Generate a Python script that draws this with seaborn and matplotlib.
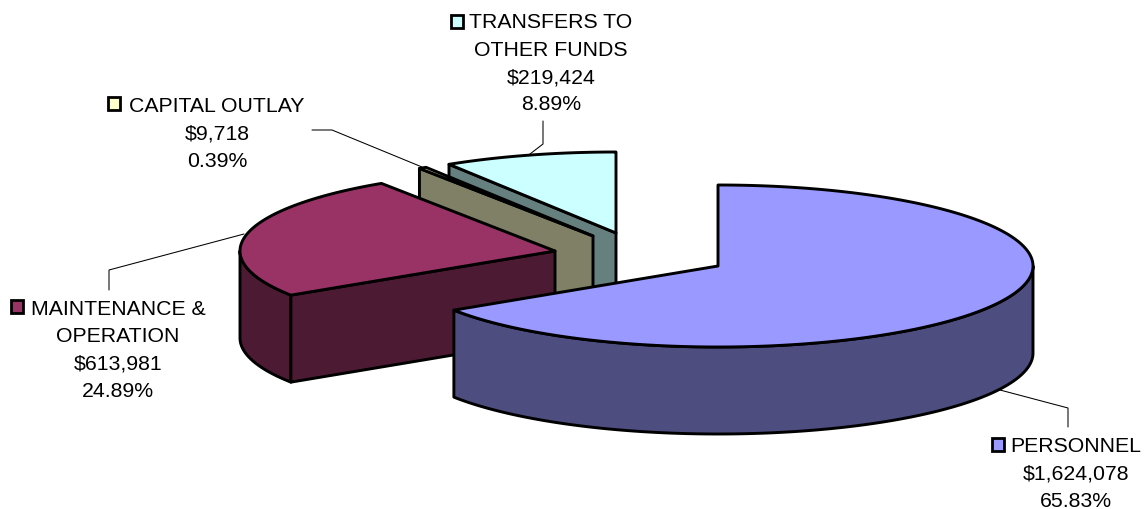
import numpy as np
import matplotlib
matplotlib.use("Agg")
import matplotlib.pyplot as plt
from matplotlib.patches import Polygon, Rectangle
import seaborn as sns

# Budget figures, in the clockwise order the pie is drawn from twelve o'clock
categories = ["PERSONNEL", "MAINTENANCE &\nOPERATION", "CAPITAL OUTLAY", "TRANSFERS TO\nOTHER FUNDS"]
amounts = [1624078, 613981, 9718, 219424]

sns.set_theme(style="white")
plt.rcParams["font.family"] = ["Liberation Sans", "DejaVu Sans"]

top_colors = sns.color_palette(["#9999FF", "#993366", "#FFFFCC", "#CCFFFF"])
side_colors = [tuple(np.array(c) * 0.5) for c in top_colors]

# Projection of the tilted pie, in canvas pixels
RX, RY, DEPTH = 315.0, 81.0, 87.0
centers = [(718, 267), (555, 252), (593, 237), (616, 234)]
EDGE = dict(edgecolor="black", linewidth=2.1, joinstyle="round")

# Leader lines and label placement for each slice
leaders = [
    [(1000, 391), (1068, 409), (1068, 428)],
    [(244, 235), (109, 271), (109, 291)],
    [(312, 131), (332, 131), (422, 168)],
    [(543, 122), (543, 145), (530, 155)],
]
label_centers = [1076, 118, 217, 551]
label_tops = [446.5, 309.5, 106.5, 22.5]
key_lefts = [992, 11, 108, 451]
key_tops = [439, 301, 98, 16]

LINE_STEP = 27.5

fig = plt.figure(figsize=(11.46, 5.10), dpi=100)
ax = fig.add_axes([0, 0, 1, 1])
ax.set_xlim(0, 1146)
ax.set_ylim(510, 0)
ax.axis("off")


def rim(cx, cy, deg, drop=0.0):
    rad = np.radians(deg)
    return np.column_stack([cx + RX * np.cos(rad), cy - RY * np.sin(rad) + drop])


def cut_face(cx, cy, deg):
    outer = rim(cx, cy, np.array([deg]))[0]
    return [(cx, cy), tuple(outer), (outer[0], outer[1] + DEPTH), (cx, cy + DEPTH)]


total = sum(amounts)
fractions = np.array(amounts) / total
ends = 90 - 360 * np.cumsum(fractions)
starts = np.concatenate([[90], ends[:-1]])

# Painter's order: the slices farthest from the viewer go first
for i in [3, 2, 1, 0]:
    cx, cy = centers[i]
    a, b = starts[i], ends[i]

    # Curved wall: only the part of the rim on the near half of the ellipse
    hi, lo = min(a, 0.0), max(b, -180.0)
    if hi > lo:
        arc = np.linspace(hi, lo, 200)
        wall = np.vstack([rim(cx, cy, arc), rim(cx, cy, arc[::-1], DEPTH)])
        ax.add_patch(Polygon(wall, closed=True, facecolor=side_colors[i], **EDGE))

    # Radial walls that turn toward the viewer
    if np.cos(np.radians(a)) < -1e-6:
        ax.add_patch(Polygon(cut_face(cx, cy, a), closed=True, facecolor=side_colors[i], **EDGE))
    if np.cos(np.radians(b)) > 1e-6:
        ax.add_patch(Polygon(cut_face(cx, cy, b), closed=True, facecolor=side_colors[i], **EDGE))

    # Top surface
    arc = np.linspace(a, b, 300)
    top = np.vstack([[(cx, cy)], rim(cx, cy, arc)])
    ax.add_patch(Polygon(top, closed=True, facecolor=top_colors[i], **EDGE))

# Labels: swatch, category name, amount and share
for i, name in enumerate(categories):
    xs, ys = zip(*leaders[i])
    ax.plot(xs, ys, color="black", lw=0.75, solid_joinstyle="miter")

    lines = name.split("\n") + [f"${amounts[i]:,}", f"{100 * fractions[i]:.2f}%"]
    for k, line in enumerate(lines):
        ax.text(label_centers[i], label_tops[i] + k * LINE_STEP, line,
                ha="center", va="center", fontsize=15.3, color="black")

    ax.add_patch(Rectangle((key_lefts[i], key_tops[i]), 12, 13,
                           facecolor=top_colors[i], edgecolor="black", linewidth=2.0))

fig.savefig("out.png", dpi=100, facecolor="white")
